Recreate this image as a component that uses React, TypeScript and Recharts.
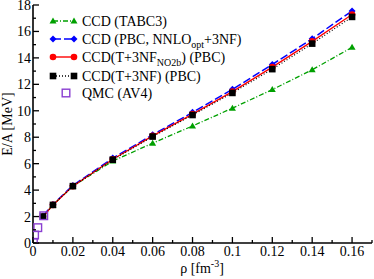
import { Customized, Line, LineChart, XAxis, YAxis } from "recharts";

const rho = [0.005, 0.01, 0.02, 0.04, 0.06, 0.08, 0.1, 0.12, 0.14, 0.16];
const tabc3 = [2.0, 2.88, 4.3, 6.2, 7.55, 8.85, 10.2, 11.6, 13.1, 14.8];
const pbcNnlo = [2.05, 2.92, 4.35, 6.42, 8.18, 9.88, 11.62, 13.5, 15.45, 17.55];
const t3nfNo2b = [1.98, 2.88, 4.3, 6.33, 8.1, 9.75, 11.45, 13.3, 15.25, 17.28];
const t3nf = [2.0, 2.88, 4.3, 6.3, 8.05, 9.68, 11.35, 13.15, 15.08, 17.1];

const qmcRho = [0.0002, 0.0008, 0.0024, 0.0054];
const qmcE = [0.05, 0.6, 1.16, 2.06];

const xTicks = [0, 0.01, 0.02, 0.03, 0.04, 0.05, 0.06, 0.07, 0.08, 0.09, 0.1, 0.11, 0.12, 0.13, 0.14, 0.15, 0.16, 0.17];
const xLabels = ["0", "", "0.02", "", "0.04", "", "0.06", "", "0.08", "", "0.1", "", "0.12", "", "0.14", "", "0.16", ""];
const yTicks = [0, 1, 2, 3, 4, 5, 6, 7, 8, 9, 10, 11, 12, 13, 14, 15, 16, 17, 18];

const GREEN = "#00a000";
const BLUE = "#0000ff";
const RED = "#ff0000";
const BLACK = "#000000";
const PURPLE = "#8a3fd1";
const FONT = "'Liberation Serif', 'Times New Roman', serif";

const toPoints = (ys: number[]) => rho.map((x, i) => ({ x, y: ys[i] }));
const qmcPoints = qmcRho.map((x, i) => ({ x, y: qmcE[i] }));

const triangle = (cx: number, cy: number, color: string, key?: any) => (
  <path key={key} d={`M${cx},${cy - 3.5} L${cx + 3.5},${cy + 2.5} L${cx - 3.5},${cy + 2.5} Z`} fill={color} />
);
const diamond = (cx: number, cy: number, color: string, key?: any) => (
  <path key={key} d={`M${cx},${cy - 3.5} L${cx + 3.5},${cy} L${cx},${cy + 3.5} L${cx - 3.5},${cy} Z`} fill={color} />
);
const circle = (cx: number, cy: number, color: string, key?: any) => (
  <circle key={key} cx={cx} cy={cy} r={3.3} fill={color} />
);
const square = (cx: number, cy: number, color: string, key?: any) => (
  <rect key={key} x={cx - 3.3} y={cy - 3.3} width={6.6} height={6.6} fill={color} />
);
const openSquare = (cx: number, cy: number, color: string, key?: any) => (
  <rect key={key} x={cx - 3.8} y={cy - 3.8} width={7.6} height={7.6} fill="none" stroke={color} strokeWidth={1.4} />
);

const dotOf = (fn: any, color: string) => (p: any) => fn(p.cx, p.cy, color, p.index);

const BottomTick = (props: any) => {
  const { x, y, index } = props;
  const label = xLabels[index];
  const len = label ? 6 : 3;
  return (
    <g>
      <line x1={x} y1={y} x2={x} y2={y - len} stroke="#000" strokeWidth={1.3} />
      {label && (
        <text x={x} y={y + 13} textAnchor="middle" fontSize={14} fontFamily={FONT} fill="#000">
          {label}
        </text>
      )}
    </g>
  );
};

const TopTick = (props: any) => {
  const { x, y, index } = props;
  const len = xLabels[index] ? 6 : 3;
  return <line x1={x} y1={y} x2={x} y2={y + len} stroke="#000" strokeWidth={1.3} />;
};

const LeftTick = (props: any) => {
  const { x, y, payload } = props;
  const major = payload.value % 2 === 0;
  return (
    <g>
      <line x1={x} y1={y} x2={x + (major ? 6 : 3)} y2={y} stroke="#000" strokeWidth={1.3} />
      {major && (
        <text x={x - 2} y={y + 5} textAnchor="end" fontSize={14} fontFamily={FONT} fill="#000">
          {payload.value}
        </text>
      )}
    </g>
  );
};

const RightTick = (props: any) => {
  const { x, y, payload } = props;
  const major = payload.value % 2 === 0;
  return <line x1={x} y1={y} x2={x - (major ? 6 : 3)} y2={y} stroke="#000" strokeWidth={1.3} />;
};

const legendRows = [
  { y: 21, marker: triangle, color: GREEN, dash: "5 2 1 2" },
  { y: 39, marker: diamond, color: BLUE, dash: "8 3" },
  { y: 57, marker: circle, color: RED, dash: undefined },
  { y: 76, marker: square, color: BLACK, dash: "1 2" },
  { y: 93, marker: openSquare, color: PURPLE, dash: null },
];

const LegendBox = () => {
  const textX = 82;
  const texts = [
    <tspan>CCD (TABC3)</tspan>,
    <>
      <tspan>CCD (PBC, NNLO</tspan>
      <tspan fontSize={10} dy={4}>opt</tspan>
      <tspan dy={-4}>+3NF)</tspan>
    </>,
    <>
      <tspan>CCD(T+3NF</tspan>
      <tspan fontSize={10} dy={4}>NO2b</tspan>
      <tspan dy={-4}>) (PBC)</tspan>
    </>,
    <tspan>CCD(T+3NF) (PBC)</tspan>,
    <tspan>QMC (AV4)</tspan>,
  ];
  return (
    <g>
      {legendRows.map((r, i) => (
        <g key={i}>
          {r.dash !== null && (
            <line x1={53} y1={r.y} x2={74} y2={r.y} stroke={r.color} strokeWidth={1.4} strokeDasharray={r.dash} />
          )}
          {r.dash !== null ? (
            <>
              {r.marker(53, r.y, r.color)}
              {r.marker(74, r.y, r.color)}
            </>
          ) : (
            r.marker(66, r.y, r.color)
          )}
          <text x={textX} y={r.y + 5} fontSize={14} fontFamily={FONT} fill="#000">
            {texts[i]}
          </text>
        </g>
      ))}
    </g>
  );
};

const AxisTitles = () => (
  <g>
    <text x={202} y={273} textAnchor="middle" fontSize={14} fontFamily={FONT} fill="#000">
      <tspan>ρ [fm</tspan>
      <tspan fontSize={10} dy={-6}>-3</tspan>
      <tspan dy={6}>]</tspan>
    </text>
    <text
      x={12}
      y={124}
      textAnchor="middle"
      fontSize={14}
      fontFamily={FONT}
      fill="#000"
      transform="rotate(-90 12 124)"
    >
      E/A [MeV]
    </text>
  </g>
);

export default function App() {
  return (
    <div style={{ position: "absolute", left: 0, top: 0, background: "#fff" }}>
      <LineChart width={374} height={279} margin={{ top: 5, right: 2, bottom: 16, left: 8 }}>
        <XAxis
          dataKey="x"
          type="number"
          domain={[0, 0.17]}
          ticks={xTicks}
          interval={0}
          allowDataOverflow
          height={20}
          tickSize={0}
          tickMargin={0}
          tickLine={false}
          axisLine={{ stroke: "#000", strokeWidth: 1.6 }}
          tick={<BottomTick />}
        />
        <XAxis
          xAxisId="top"
          orientation="top"
          dataKey="x"
          type="number"
          domain={[0, 0.17]}
          ticks={xTicks}
          interval={0}
          height={0}
          tickSize={0}
          tickMargin={0}
          tickLine={false}
          axisLine={{ stroke: "#000", strokeWidth: 1.6 }}
          tick={<TopTick />}
        />
        <YAxis
          type="number"
          domain={[0, 18]}
          ticks={yTicks}
          interval={0}
          allowDataOverflow
          width={25}
          tickSize={0}
          tickMargin={0}
          tickLine={false}
          axisLine={{ stroke: "#000", strokeWidth: 1.6 }}
          tick={<LeftTick />}
        />
        <YAxis
          yAxisId="right"
          orientation="right"
          type="number"
          domain={[0, 18]}
          ticks={yTicks}
          interval={0}
          width={0}
          tickSize={0}
          tickMargin={0}
          tickLine={false}
          axisLine={{ stroke: "#000", strokeWidth: 1.6 }}
          tick={<RightTick />}
        />
        <Line
          data={toPoints(tabc3)}
          dataKey="y"
          stroke={GREEN}
          strokeWidth={1.3}
          strokeDasharray="5 2 1 2"
          dot={dotOf(triangle, GREEN)}
          activeDot={false}
          isAnimationActive={false}
        />
        <Line
          data={toPoints(pbcNnlo)}
          dataKey="y"
          stroke={BLUE}
          strokeWidth={1.5}
          strokeDasharray="8 3"
          dot={dotOf(diamond, BLUE)}
          activeDot={false}
          isAnimationActive={false}
        />
        <Line
          data={toPoints(t3nfNo2b)}
          dataKey="y"
          stroke={RED}
          strokeWidth={1.3}
          dot={dotOf(circle, RED)}
          activeDot={false}
          isAnimationActive={false}
        />
        <Line
          data={toPoints(t3nf)}
          dataKey="y"
          stroke={BLACK}
          strokeWidth={1.2}
          strokeDasharray="1 2"
          dot={dotOf(square, BLACK)}
          activeDot={false}
          isAnimationActive={false}
        />
        <Line
          data={qmcPoints}
          dataKey="y"
          stroke="none"
          dot={dotOf(openSquare, PURPLE)}
          activeDot={false}
          isAnimationActive={false}
        />
        <Customized component={LegendBox} />
        <Customized component={AxisTitles} />
      </LineChart>
    </div>
  );
}
